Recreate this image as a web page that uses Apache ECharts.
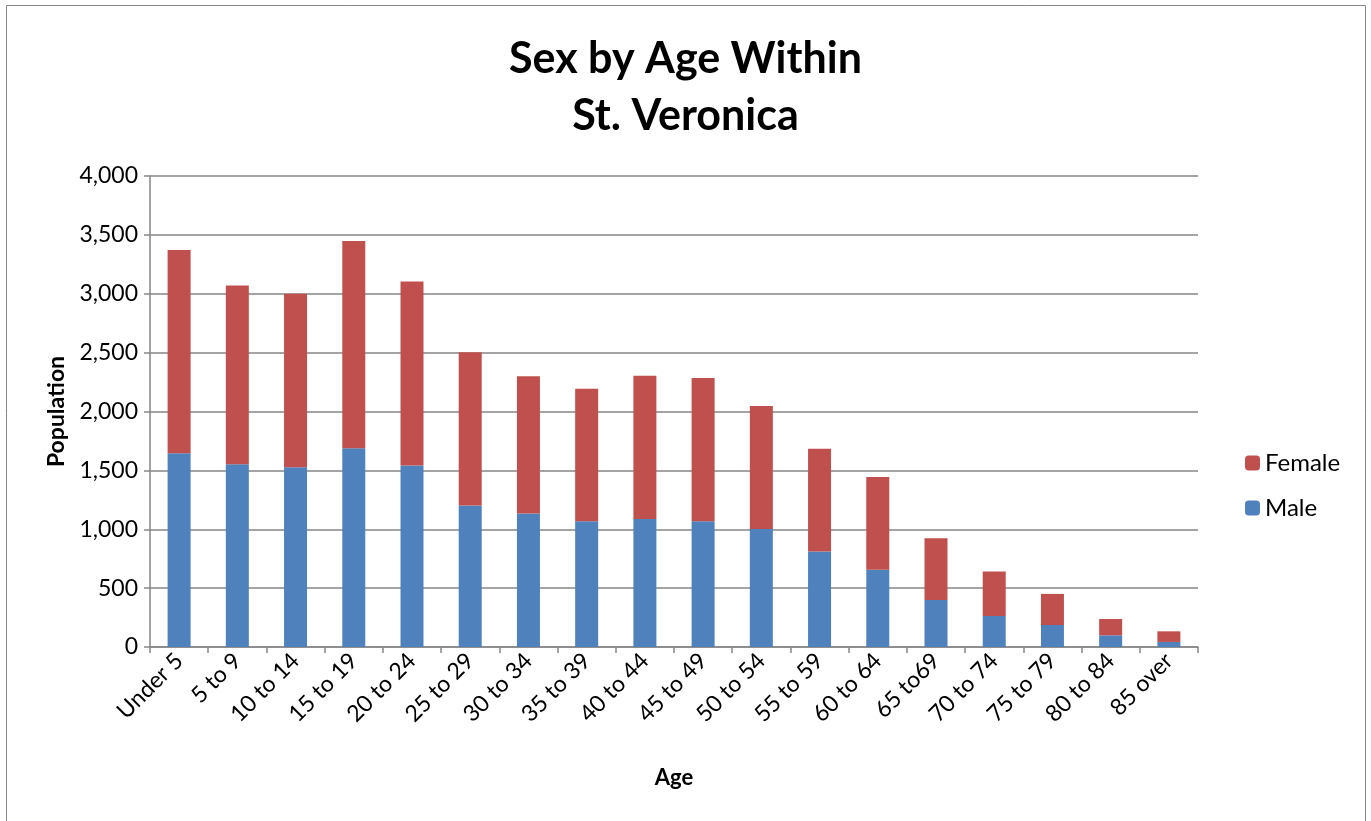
<!DOCTYPE html>
<html>
<head>
<meta charset="utf-8">
<script src="https://cdn.jsdelivr.net/npm/echarts@6/dist/echarts.min.js"></script>
<style>html,body{margin:0;padding:0;background:#fff}#c{width:1371px;height:821px}</style>
</head>
<body>
<div id="c"></div>
<script>
var categories = ["Under 5","5 to 9","10 to 14","15 to 19","20 to 24","25 to 29","30 to 34","35 to 39","40 to 44","45 to 49","50 to 54","55 to 59","60 to 64","65 to69","70 to 74","75 to 79","80 to 84","85 over"];
var male = [1646,1552,1527,1688,1541,1201,1133,1069,1086,1069,1003,811,655,400,264,187,99,43];
var female = [1725,1519,1473,1760,1564,1303,1167,1125,1218,1216,1044,873,788,524,377,264,139,90];
var yTicks = [0,500,1000,1500,2000,2500,3000,3500,4000];

var FONT = "Lato, 'Open Sans', sans-serif";
var chart = echarts.init(document.getElementById('c'));
chart.setOption({
  animation: false,
  backgroundColor: '#fff',
  title: {
    text: 'Sex by Age Within\nSt. Veronica',
    left: 'center', top: 26,
    textStyle: {fontFamily: FONT, fontSize: 43, fontWeight: 'bold', color: '#000', lineHeight: 57}
  },
  legend: {
    orient: 'vertical', left: 1240, top: 446,
    itemWidth: 15, itemHeight: 15, itemGap: 21,
    data: ['Female', 'Male'],
    textStyle: {fontFamily: FONT, fontSize: 24, color: '#000'}
  },
  graphic: [{type:'rect', shape:{x:6.5,y:5.5,width:1359,height:830}, style:{fill:'none', stroke:'#868686', lineWidth:1}, silent:true}],
  grid: {left: 150, right: 173, top: 176, bottom: 174},
  xAxis: {
    type: 'category', data: categories,
    name: 'Age', nameLocation: 'middle', nameGap: 120,
    nameTextStyle: {fontFamily: FONT, fontSize: 22, fontWeight: 'bold', color: '#000'},
    axisLine: {lineStyle: {color: '#868686', width: 1.5}},
    axisTick: {show: true, length: 6, interval: 0, lineStyle: {color: '#868686', width: 1.5}},
    axisLabel: {interval: 0, rotate: 45, fontFamily: FONT, fontSize: 23, color: '#000', margin: 10}
  },
  yAxis: {
    type: 'value', min: 0, max: 4000, interval: 500,
    name: 'Population', nameLocation: 'middle', nameGap: 80,
    nameTextStyle: {fontFamily: FONT, fontSize: 23, fontWeight: 'bold', color: '#000'},
    axisLine: {show: true, lineStyle: {color: '#868686', width: 1.5}},
    axisTick: {show: true, length: 6, lineStyle: {color: '#868686', width: 1.5}},
    axisLabel: {fontFamily: FONT, fontSize: 23, color: '#000', margin: 12,
      formatter: function(v){ return v.toLocaleString('en-US'); }},
    splitLine: {lineStyle: {color: '#868686', width: 1.5}}
  },
  series: [
    {name: 'Male', type: 'bar', stack: 'a', data: male, barWidth: 23,
     itemStyle: {color: '#4f81bd'}},
    {name: 'Female', type: 'bar', stack: 'a', data: female, barWidth: 23,
     itemStyle: {color: '#c0504d'}}
  ]
});
</script>
</body>
</html>
